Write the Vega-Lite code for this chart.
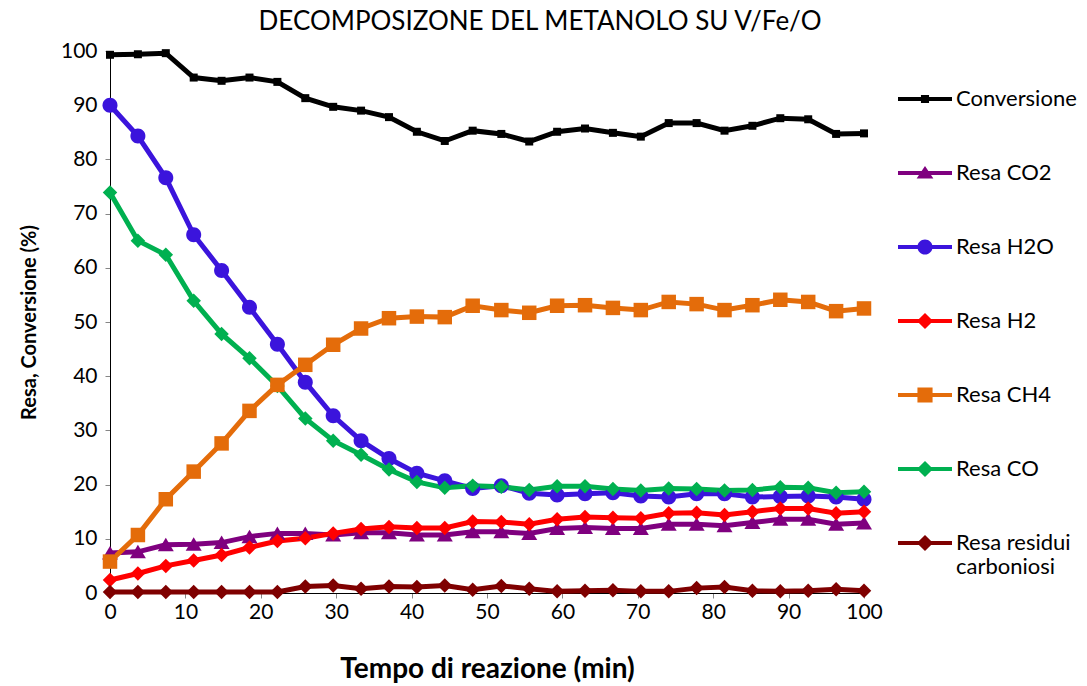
{
  "$schema": "https://vega.github.io/schema/vega-lite/v6.json",
  "width": 754,
  "height": 542,
  "autosize": {"type": "none"},
  "padding": {"left": 110, "top": 51, "right": 223, "bottom": 93},
  "background": "white",
  "config": {
    "view": {"stroke": null},
    "font": "Lato",
    "axis": {"grid": false, "domainColor": "black", "domainWidth": 1, "tickColor": "#868686", "tickSize": 5, "labelFont": "Lato", "labelFontSize": 21, "labelColor": "black", "titleFont": "Lato", "titleColor": "black", "titleFontWeight": "bold"}
  },
  "title": {"text": "DECOMPOSIZONE DEL METANOLO SU V/Fe/O", "font": "Lato", "fontSize": 26, "fontWeight": "normal", "color": "black", "anchor": "middle", "dx": 53, "offset": 5},
  "data": {"values": [
    {"tempo": 0, "serie": "Conversione", "valore": 99.3},
    {"tempo": 3.7, "serie": "Conversione", "valore": 99.4},
    {"tempo": 7.4, "serie": "Conversione", "valore": 99.6},
    {"tempo": 11.1, "serie": "Conversione", "valore": 95.1},
    {"tempo": 14.8, "serie": "Conversione", "valore": 94.5},
    {"tempo": 18.5, "serie": "Conversione", "valore": 95.1},
    {"tempo": 22.2, "serie": "Conversione", "valore": 94.3},
    {"tempo": 25.9, "serie": "Conversione", "valore": 91.3},
    {"tempo": 29.6, "serie": "Conversione", "valore": 89.7},
    {"tempo": 33.3, "serie": "Conversione", "valore": 89.0},
    {"tempo": 37, "serie": "Conversione", "valore": 87.8},
    {"tempo": 40.7, "serie": "Conversione", "valore": 85.1},
    {"tempo": 44.4, "serie": "Conversione", "valore": 83.4},
    {"tempo": 48.1, "serie": "Conversione", "valore": 85.3},
    {"tempo": 51.9, "serie": "Conversione", "valore": 84.7},
    {"tempo": 55.6, "serie": "Conversione", "valore": 83.3},
    {"tempo": 59.3, "serie": "Conversione", "valore": 85.1},
    {"tempo": 63, "serie": "Conversione", "valore": 85.7},
    {"tempo": 66.7, "serie": "Conversione", "valore": 84.9},
    {"tempo": 70.4, "serie": "Conversione", "valore": 84.2},
    {"tempo": 74.1, "serie": "Conversione", "valore": 86.7},
    {"tempo": 77.8, "serie": "Conversione", "valore": 86.7},
    {"tempo": 81.5, "serie": "Conversione", "valore": 85.3},
    {"tempo": 85.2, "serie": "Conversione", "valore": 86.2},
    {"tempo": 88.9, "serie": "Conversione", "valore": 87.6},
    {"tempo": 92.6, "serie": "Conversione", "valore": 87.4},
    {"tempo": 96.3, "serie": "Conversione", "valore": 84.7},
    {"tempo": 100, "serie": "Conversione", "valore": 84.8},
    {"tempo": 0, "serie": "Resa CO2", "valore": 7.4},
    {"tempo": 3.7, "serie": "Resa CO2", "valore": 7.6},
    {"tempo": 7.4, "serie": "Resa CO2", "valore": 8.9},
    {"tempo": 11.1, "serie": "Resa CO2", "valore": 9.0},
    {"tempo": 14.8, "serie": "Resa CO2", "valore": 9.3},
    {"tempo": 18.5, "serie": "Resa CO2", "valore": 10.4},
    {"tempo": 22.2, "serie": "Resa CO2", "valore": 11.0},
    {"tempo": 25.9, "serie": "Resa CO2", "valore": 11.0},
    {"tempo": 29.6, "serie": "Resa CO2", "valore": 10.7},
    {"tempo": 33.3, "serie": "Resa CO2", "valore": 11.1},
    {"tempo": 37, "serie": "Resa CO2", "valore": 11.1},
    {"tempo": 40.7, "serie": "Resa CO2", "valore": 10.7},
    {"tempo": 44.4, "serie": "Resa CO2", "valore": 10.7},
    {"tempo": 48.1, "serie": "Resa CO2", "valore": 11.3},
    {"tempo": 51.9, "serie": "Resa CO2", "valore": 11.3},
    {"tempo": 55.6, "serie": "Resa CO2", "valore": 11.0},
    {"tempo": 59.3, "serie": "Resa CO2", "valore": 11.9},
    {"tempo": 63, "serie": "Resa CO2", "valore": 12.1},
    {"tempo": 66.7, "serie": "Resa CO2", "valore": 11.9},
    {"tempo": 70.4, "serie": "Resa CO2", "valore": 11.9},
    {"tempo": 74.1, "serie": "Resa CO2", "valore": 12.7},
    {"tempo": 77.8, "serie": "Resa CO2", "valore": 12.7},
    {"tempo": 81.5, "serie": "Resa CO2", "valore": 12.4},
    {"tempo": 85.2, "serie": "Resa CO2", "valore": 13.0},
    {"tempo": 88.9, "serie": "Resa CO2", "valore": 13.6},
    {"tempo": 92.6, "serie": "Resa CO2", "valore": 13.6},
    {"tempo": 96.3, "serie": "Resa CO2", "valore": 12.7},
    {"tempo": 100, "serie": "Resa CO2", "valore": 12.9},
    {"tempo": 0, "serie": "Resa H2O", "valore": 90.0},
    {"tempo": 3.7, "serie": "Resa H2O", "valore": 84.3},
    {"tempo": 7.4, "serie": "Resa H2O", "valore": 76.6},
    {"tempo": 11.1, "serie": "Resa H2O", "valore": 66.1},
    {"tempo": 14.8, "serie": "Resa H2O", "valore": 59.5},
    {"tempo": 18.5, "serie": "Resa H2O", "valore": 52.7},
    {"tempo": 22.2, "serie": "Resa H2O", "valore": 45.9},
    {"tempo": 25.9, "serie": "Resa H2O", "valore": 38.9},
    {"tempo": 29.6, "serie": "Resa H2O", "valore": 32.7},
    {"tempo": 33.3, "serie": "Resa H2O", "valore": 28.1},
    {"tempo": 37, "serie": "Resa H2O", "valore": 24.8},
    {"tempo": 40.7, "serie": "Resa H2O", "valore": 22.1},
    {"tempo": 44.4, "serie": "Resa H2O", "valore": 20.7},
    {"tempo": 48.1, "serie": "Resa H2O", "valore": 19.3},
    {"tempo": 51.9, "serie": "Resa H2O", "valore": 19.8},
    {"tempo": 55.6, "serie": "Resa H2O", "valore": 18.4},
    {"tempo": 59.3, "serie": "Resa H2O", "valore": 18.1},
    {"tempo": 63, "serie": "Resa H2O", "valore": 18.3},
    {"tempo": 66.7, "serie": "Resa H2O", "valore": 18.5},
    {"tempo": 70.4, "serie": "Resa H2O", "valore": 17.9},
    {"tempo": 74.1, "serie": "Resa H2O", "valore": 17.7},
    {"tempo": 77.8, "serie": "Resa H2O", "valore": 18.3},
    {"tempo": 81.5, "serie": "Resa H2O", "valore": 18.3},
    {"tempo": 85.2, "serie": "Resa H2O", "valore": 17.7},
    {"tempo": 88.9, "serie": "Resa H2O", "valore": 17.8},
    {"tempo": 92.6, "serie": "Resa H2O", "valore": 17.9},
    {"tempo": 96.3, "serie": "Resa H2O", "valore": 17.7},
    {"tempo": 100, "serie": "Resa H2O", "valore": 17.3},
    {"tempo": 0, "serie": "Resa H2", "valore": 2.4},
    {"tempo": 3.7, "serie": "Resa H2", "valore": 3.6},
    {"tempo": 7.4, "serie": "Resa H2", "valore": 5.0},
    {"tempo": 11.1, "serie": "Resa H2", "valore": 6.0},
    {"tempo": 14.8, "serie": "Resa H2", "valore": 7.0},
    {"tempo": 18.5, "serie": "Resa H2", "valore": 8.4},
    {"tempo": 22.2, "serie": "Resa H2", "valore": 9.6},
    {"tempo": 25.9, "serie": "Resa H2", "valore": 10.1},
    {"tempo": 29.6, "serie": "Resa H2", "valore": 11.0},
    {"tempo": 33.3, "serie": "Resa H2", "valore": 11.8},
    {"tempo": 37, "serie": "Resa H2", "valore": 12.2},
    {"tempo": 40.7, "serie": "Resa H2", "valore": 12.0},
    {"tempo": 44.4, "serie": "Resa H2", "valore": 12.0},
    {"tempo": 48.1, "serie": "Resa H2", "valore": 13.2},
    {"tempo": 51.9, "serie": "Resa H2", "valore": 13.1},
    {"tempo": 55.6, "serie": "Resa H2", "valore": 12.7},
    {"tempo": 59.3, "serie": "Resa H2", "valore": 13.6},
    {"tempo": 63, "serie": "Resa H2", "valore": 14.0},
    {"tempo": 66.7, "serie": "Resa H2", "valore": 13.9},
    {"tempo": 70.4, "serie": "Resa H2", "valore": 13.8},
    {"tempo": 74.1, "serie": "Resa H2", "valore": 14.7},
    {"tempo": 77.8, "serie": "Resa H2", "valore": 14.8},
    {"tempo": 81.5, "serie": "Resa H2", "valore": 14.4},
    {"tempo": 85.2, "serie": "Resa H2", "valore": 15.0},
    {"tempo": 88.9, "serie": "Resa H2", "valore": 15.6},
    {"tempo": 92.6, "serie": "Resa H2", "valore": 15.6},
    {"tempo": 96.3, "serie": "Resa H2", "valore": 14.7},
    {"tempo": 100, "serie": "Resa H2", "valore": 15.0},
    {"tempo": 0, "serie": "Resa CH4", "valore": 5.8},
    {"tempo": 3.7, "serie": "Resa CH4", "valore": 10.7},
    {"tempo": 7.4, "serie": "Resa CH4", "valore": 17.3},
    {"tempo": 11.1, "serie": "Resa CH4", "valore": 22.4},
    {"tempo": 14.8, "serie": "Resa CH4", "valore": 27.6},
    {"tempo": 18.5, "serie": "Resa CH4", "valore": 33.6},
    {"tempo": 22.2, "serie": "Resa CH4", "valore": 38.4},
    {"tempo": 25.9, "serie": "Resa CH4", "valore": 42.1},
    {"tempo": 29.6, "serie": "Resa CH4", "valore": 45.8},
    {"tempo": 33.3, "serie": "Resa CH4", "valore": 48.8},
    {"tempo": 37, "serie": "Resa CH4", "valore": 50.7},
    {"tempo": 40.7, "serie": "Resa CH4", "valore": 51.0},
    {"tempo": 44.4, "serie": "Resa CH4", "valore": 50.9},
    {"tempo": 48.1, "serie": "Resa CH4", "valore": 53.0},
    {"tempo": 51.9, "serie": "Resa CH4", "valore": 52.2},
    {"tempo": 55.6, "serie": "Resa CH4", "valore": 51.7},
    {"tempo": 59.3, "serie": "Resa CH4", "valore": 53.0},
    {"tempo": 63, "serie": "Resa CH4", "valore": 53.1},
    {"tempo": 66.7, "serie": "Resa CH4", "valore": 52.6},
    {"tempo": 70.4, "serie": "Resa CH4", "valore": 52.2},
    {"tempo": 74.1, "serie": "Resa CH4", "valore": 53.7},
    {"tempo": 77.8, "serie": "Resa CH4", "valore": 53.3},
    {"tempo": 81.5, "serie": "Resa CH4", "valore": 52.2},
    {"tempo": 85.2, "serie": "Resa CH4", "valore": 53.1},
    {"tempo": 88.9, "serie": "Resa CH4", "valore": 54.1},
    {"tempo": 92.6, "serie": "Resa CH4", "valore": 53.7},
    {"tempo": 96.3, "serie": "Resa CH4", "valore": 52.0},
    {"tempo": 100, "serie": "Resa CH4", "valore": 52.5},
    {"tempo": 0, "serie": "Resa CO", "valore": 73.9},
    {"tempo": 3.7, "serie": "Resa CO", "valore": 65.0},
    {"tempo": 7.4, "serie": "Resa CO", "valore": 62.4},
    {"tempo": 11.1, "serie": "Resa CO", "valore": 53.9},
    {"tempo": 14.8, "serie": "Resa CO", "valore": 47.8},
    {"tempo": 18.5, "serie": "Resa CO", "valore": 43.3},
    {"tempo": 22.2, "serie": "Resa CO", "valore": 38.2},
    {"tempo": 25.9, "serie": "Resa CO", "valore": 32.2},
    {"tempo": 29.6, "serie": "Resa CO", "valore": 28.1},
    {"tempo": 33.3, "serie": "Resa CO", "valore": 25.5},
    {"tempo": 37, "serie": "Resa CO", "valore": 22.8},
    {"tempo": 40.7, "serie": "Resa CO", "valore": 20.5},
    {"tempo": 44.4, "serie": "Resa CO", "valore": 19.4},
    {"tempo": 48.1, "serie": "Resa CO", "valore": 19.8},
    {"tempo": 51.9, "serie": "Resa CO", "valore": 19.6},
    {"tempo": 55.6, "serie": "Resa CO", "valore": 19.0},
    {"tempo": 59.3, "serie": "Resa CO", "valore": 19.7},
    {"tempo": 63, "serie": "Resa CO", "valore": 19.7},
    {"tempo": 66.7, "serie": "Resa CO", "valore": 19.2},
    {"tempo": 70.4, "serie": "Resa CO", "valore": 18.9},
    {"tempo": 74.1, "serie": "Resa CO", "valore": 19.3},
    {"tempo": 77.8, "serie": "Resa CO", "valore": 19.2},
    {"tempo": 81.5, "serie": "Resa CO", "valore": 18.9},
    {"tempo": 85.2, "serie": "Resa CO", "valore": 19.0},
    {"tempo": 88.9, "serie": "Resa CO", "valore": 19.5},
    {"tempo": 92.6, "serie": "Resa CO", "valore": 19.4},
    {"tempo": 96.3, "serie": "Resa CO", "valore": 18.5},
    {"tempo": 100, "serie": "Resa CO", "valore": 18.7},
    {"tempo": 0, "serie": "Resa residui carboniosi", "valore": 0.2},
    {"tempo": 3.7, "serie": "Resa residui carboniosi", "valore": 0.2},
    {"tempo": 7.4, "serie": "Resa residui carboniosi", "valore": 0.2},
    {"tempo": 11.1, "serie": "Resa residui carboniosi", "valore": 0.2},
    {"tempo": 14.8, "serie": "Resa residui carboniosi", "valore": 0.2},
    {"tempo": 18.5, "serie": "Resa residui carboniosi", "valore": 0.2},
    {"tempo": 22.2, "serie": "Resa residui carboniosi", "valore": 0.2},
    {"tempo": 25.9, "serie": "Resa residui carboniosi", "valore": 1.2},
    {"tempo": 29.6, "serie": "Resa residui carboniosi", "valore": 1.4},
    {"tempo": 33.3, "serie": "Resa residui carboniosi", "valore": 0.8},
    {"tempo": 37, "serie": "Resa residui carboniosi", "valore": 1.2},
    {"tempo": 40.7, "serie": "Resa residui carboniosi", "valore": 1.1},
    {"tempo": 44.4, "serie": "Resa residui carboniosi", "valore": 1.4},
    {"tempo": 48.1, "serie": "Resa residui carboniosi", "valore": 0.6},
    {"tempo": 51.9, "serie": "Resa residui carboniosi", "valore": 1.3},
    {"tempo": 55.6, "serie": "Resa residui carboniosi", "valore": 0.8},
    {"tempo": 59.3, "serie": "Resa residui carboniosi", "valore": 0.3},
    {"tempo": 63, "serie": "Resa residui carboniosi", "valore": 0.4},
    {"tempo": 66.7, "serie": "Resa residui carboniosi", "valore": 0.5},
    {"tempo": 70.4, "serie": "Resa residui carboniosi", "valore": 0.3},
    {"tempo": 74.1, "serie": "Resa residui carboniosi", "valore": 0.3},
    {"tempo": 77.8, "serie": "Resa residui carboniosi", "valore": 0.9},
    {"tempo": 81.5, "serie": "Resa residui carboniosi", "valore": 1.1},
    {"tempo": 85.2, "serie": "Resa residui carboniosi", "valore": 0.4},
    {"tempo": 88.9, "serie": "Resa residui carboniosi", "valore": 0.3},
    {"tempo": 92.6, "serie": "Resa residui carboniosi", "valore": 0.4},
    {"tempo": 96.3, "serie": "Resa residui carboniosi", "valore": 0.7},
    {"tempo": 100, "serie": "Resa residui carboniosi", "valore": 0.4}
  ]},
  "encoding": {
    "x": {"field": "tempo", "type": "quantitative", "scale": {"domain": [0, 100], "nice": false}, "axis": {"values": [0, 10, 20, 30, 40, 50, 60, 70, 80, 90, 100], "title": "Tempo di reazione (min)", "titleFontSize": 28, "titlePadding": 33, "labelPadding": 3, "labelFlush": false}},
    "y": {"field": "valore", "type": "quantitative", "scale": {"domain": [0, 100], "nice": false}, "axis": {"values": [0, 10, 20, 30, 40, 50, 60, 70, 80, 90, 100], "title": "Resa, Conversione (%)", "titleFontSize": 20, "titlePadding": 21, "labelPadding": 8, "labelFlush": false}},
    "color": {"field": "serie", "type": "nominal",
      "scale": {"domain": ["Conversione", "Resa CO2", "Resa H2O", "Resa H2", "Resa CH4", "Resa CO", "Resa residui carboniosi"], "range": ["#000000", "#7F007F", "#3B14DC", "#FF0000", "#E46C0A", "#00B050", "#7F0000"]},
      "legend": {
        "title": null, "orient": "none", "legendX": 788, "legendY": 21, "padding": 0,
        "labelFont": "Lato", "labelFontSize": 22, "labelColor": "black", "labelOffset": 4, "labelLimit": 200,
        "rowPadding": 36, "symbolSize": 2916, "symbolOpacity": 1, "symbolStrokeWidth": 0,
        "labelExpr": "datum.label == 'Resa residui carboniosi' ? ['Resa residui', 'carboniosi'] : datum.label",
        "encode": {"labels": {"lineHeight": {"value": 29}}}
      }
    }
  },
  "layer": [
    {"mark": {"type": "line", "strokeWidth": 5, "clip": false}},
    {"transform": [{"filter": {"field": "serie", "equal": "Conversione"}}],
     "mark": {"type": "point", "filled": true, "opacity": 1, "size": 100, "clip": false, "shape": "M-0.8,-0.8H0.8V0.8H-0.8Z"}},
    {"transform": [{"filter": {"field": "serie", "equal": "Resa CO2"}}],
     "mark": {"type": "point", "filled": true, "opacity": 1, "size": 100, "clip": false, "shape": "M-1.6,1.3L0,-1.4L1.6,1.3Z"}},
    {"transform": [{"filter": {"field": "serie", "equal": "Resa H2O"}}],
     "mark": {"type": "point", "filled": true, "opacity": 1, "size": 100, "clip": false, "shape": "M-1.5,0A1.5,1.5,0,1,1,1.5,0A1.5,1.5,0,1,1,-1.5,0Z"}},
    {"transform": [{"filter": {"field": "serie", "oneOf": ["Resa H2", "Resa CO", "Resa residui carboniosi"]}}],
     "mark": {"type": "point", "filled": true, "opacity": 1, "size": 100, "clip": false, "shape": "M0,-1.45L1.45,0L0,1.45L-1.45,0Z"}},
    {"transform": [{"filter": {"field": "serie", "equal": "Resa CH4"}}],
     "mark": {"type": "point", "filled": true, "opacity": 1, "size": 100, "clip": false, "shape": "M-1.45,-1.45H1.45V1.45H-1.45Z"}},
    {"mark": {"type": "point", "filled": true, "opacity": 0, "size": 100, "clip": false},
     "encoding": {
       "shape": {"field": "serie", "type": "nominal",
         "scale": {"domain": ["Conversione", "Resa CO2", "Resa H2O", "Resa H2", "Resa CH4", "Resa CO", "Resa residui carboniosi"],
           "range": [
             "M-1,-0.075H1V0.075H-1ZM-0.15,-0.15H0.15V0.15H-0.15Z",
             "M-1,-0.075H1V0.075H-1ZM-0.31,0.2L0,-0.26L0.31,0.2Z",
             "M-1,-0.075H1V0.075H-1ZM-0.28,0A0.28,0.28,0,1,1,0.28,0A0.28,0.28,0,1,1,-0.28,0Z",
             "M-1,-0.075H1V0.075H-1ZM0,-0.3L0.3,0L0,0.3L-0.3,0Z",
             "M-1,-0.075H1V0.075H-1ZM-0.28,-0.28H0.28V0.28H-0.28Z",
             "M-1,-0.075H1V0.075H-1ZM0,-0.3L0.3,0L0,0.3L-0.3,0Z",
             "M-1,-0.075H1V0.075H-1ZM0,-0.3L0.3,0L0,0.3L-0.3,0Z"
           ]},
         "legend": {
           "title": null, "orient": "none", "legendX": 788, "legendY": 21, "padding": 0,
           "labelFont": "Lato", "labelFontSize": 22, "labelColor": "black", "labelOffset": 4, "labelLimit": 200,
           "rowPadding": 36, "symbolSize": 2916, "symbolOpacity": 1, "symbolStrokeWidth": 0,
           "labelExpr": "datum.label == 'Resa residui carboniosi' ? ['Resa residui', 'carboniosi'] : datum.label",
           "encode": {"labels": {"lineHeight": {"value": 29}}}
         }}
     }}
  ]
}
